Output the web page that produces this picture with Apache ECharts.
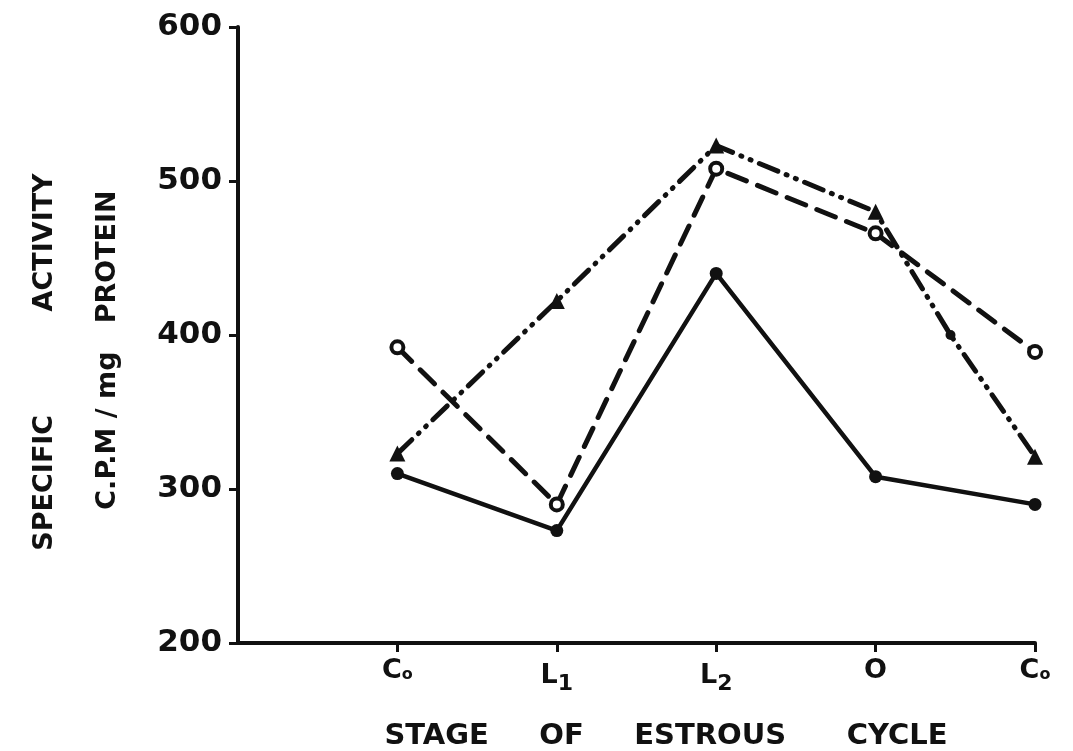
<!DOCTYPE html>
<html>
<head>
<meta charset="utf-8">
<script src="https://cdn.jsdelivr.net/npm/echarts@6/dist/echarts.min.js"></script>
<style>
  html, body { margin: 0; padding: 0; background: #ffffff; }
  #chart { width: 1073px; height: 751px; }
</style>
</head>
<body>
<div id="chart"></div>
<script>
// Stages of the estrous cycle (positions 1..5 on the x scale; 0 is the axis corner)
const stageLabels = ['C{o|o}', 'L{s|1}', 'L{s|2}', 'O', 'C{o|o}'];
const stagePos = [1, 2, 3, 4, 5];

// Specific activity, C.P.M / mg protein
const solidVals   = [310, 273, 440, 308, 290];
const dashedVals  = [392, 290, 508, 466, 389];
const dashDotVals = [323, 422, 523, 480, 321];
// extra marked point on the dash-dot curve between O and Co
const dashDotMidPos = 4.47;
const dashDotMidVal = 400;

const yTicks = [200, 300, 400, 500, 600];

const FONT = '"DejaVu Sans", sans-serif';
const INK = '#111111';

function pairs(vals) {
  return stagePos.map((p, i) => [p, vals[i]]);
}

const dashDotData = pairs(dashDotVals);
dashDotData.splice(4, 0, { value: [dashDotMidPos, dashDotMidVal], symbol: 'circle', symbolSize: 10 });

const chart = echarts.init(document.getElementById('chart'));

chart.setOption({
  backgroundColor: '#ffffff',
  animation: false,
  grid: { left: 238, right: 38, top: 27, bottom: 108 },
  xAxis: {
    type: 'value',
    min: 0, max: 5, interval: 1,
    splitLine: { show: false },
    axisLine: { lineStyle: { color: INK, width: 4 } },
    axisTick: { show: true, length: 9, customValues: stagePos, lineStyle: { color: INK, width: 3 } },
    axisLabel: {
      margin: 14,
      color: INK,
      fontFamily: FONT,
      fontWeight: 'bold',
      fontSize: 27,
      customValues: stagePos,
      formatter: v => (v >= 1 && v <= 5 ? stageLabels[v - 1] : ''),
      rich: {
        o: { fontFamily: FONT, fontWeight: 'bold', fontSize: 16, color: INK, padding: [8, 0, 0, 0] },
        s: { fontFamily: FONT, fontWeight: 'bold', fontSize: 22, color: INK, padding: [16, 0, 0, 0] }
      }
    }
  },
  yAxis: {
    type: 'value',
    min: yTicks[0], max: yTicks[yTicks.length - 1], interval: 100,
    splitLine: { show: false },
    axisLine: { show: true, lineStyle: { color: INK, width: 4 } },
    axisTick: { show: true, length: 9, lineStyle: { color: INK, width: 3 } },
    axisLabel: {
      margin: 16,
      color: INK,
      fontFamily: FONT,
      fontWeight: 'bold',
      fontSize: 31
    }
  },
  series: [
    {
      name: 'solid',
      type: 'line',
      data: pairs(solidVals),
      symbol: 'circle',
      symbolSize: 13,
      itemStyle: { color: INK },
      lineStyle: { color: INK, width: 4.5 }
    },
    {
      name: 'dashed',
      type: 'line',
      data: pairs(dashedVals),
      symbol: 'circle',
      symbolSize: 12,
      itemStyle: { color: '#ffffff', borderColor: INK, borderWidth: 4 },
      lineStyle: { color: INK, width: 5, type: [20, 12], cap: 'round' }
    },
    {
      name: 'dashdot',
      type: 'line',
      data: dashDotData,
      symbol: 'triangle',
      symbolSize: 16,
      itemStyle: { color: INK },
      lineStyle: { color: INK, width: 5, type: [20, 9, 1, 9, 1, 9], cap: 'round' }
    }
  ],
  graphic: [
    {
      type: 'text', x: 45, y: 362, rotation: Math.PI / 2,
      style: {
        text: 'SPECIFIC           ACTIVITY',
        font: 'bold 27px "DejaVu Sans", sans-serif',
        fill: INK, textAlign: 'center', textVerticalAlign: 'middle'
      }
    },
    {
      type: 'text', x: 108, y: 350, rotation: Math.PI / 2,
      style: {
        text: 'C.P.M / mg   PROTEIN',
        font: 'bold 27px "DejaVu Sans", sans-serif',
        fill: INK, textAlign: 'center', textVerticalAlign: 'middle'
      }
    },
    {
      type: 'text', x: 666, y: 736,
      style: {
        text: 'STAGE     OF     ESTROUS      CYCLE',
        font: 'bold 29px "DejaVu Sans", sans-serif',
        fill: INK, textAlign: 'center', textVerticalAlign: 'middle'
      }
    }
  ]
});
</script>
</body>
</html>
